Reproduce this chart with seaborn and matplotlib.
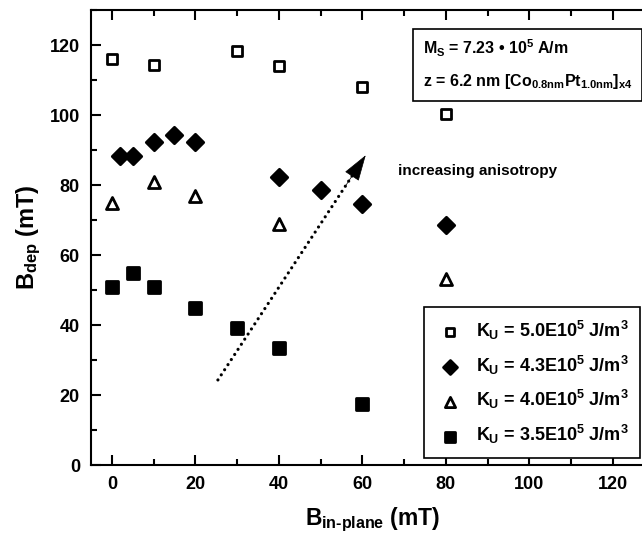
import numpy as np
import pandas as pd
import matplotlib
matplotlib.use('Agg')
import matplotlib.pyplot as plt
import seaborn as sns

# ==========================================
# Data
# ==========================================
x_50 = [0, 10, 30, 40, 60, 80]
y_50 = [116.0, 114.3, 118.2, 114.0, 108.0, 100.2]

x_43 = [2, 5, 10, 15, 20, 40, 50, 60, 80]
y_43 = [88.2, 88.2, 92.2, 94.2, 92.2, 82.4, 78.5, 74.5, 68.6]

x_40 = [0, 10, 20, 40, 80]
y_40 = [74.8, 80.8, 76.8, 69.0, 53.2]

x_35 = [0, 5, 10, 20, 30, 40, 60]
y_35 = [51.0, 55.0, 51.0, 45.0, 39.2, 33.4, 17.5]

labels = [r'$K_U$ = 5.0E10$^5$ J/m$^3$',
          r'$K_U$ = 4.3E10$^5$ J/m$^3$',
          r'$K_U$ = 4.0E10$^5$ J/m$^3$',
          r'$K_U$ = 3.5E10$^5$ J/m$^3$']

arrow_start = (25.4, 24.3)
arrow_end = (60.8, 88.5)

# ==========================================
# Style
# ==========================================
sns.set_style('ticks')
plt.rcParams['font.family'] = ['Liberation Sans', 'DejaVu Sans']
plt.rcParams['font.weight'] = 'bold'
plt.rcParams['mathtext.fontset'] = 'custom'
plt.rcParams['mathtext.rm'] = 'Liberation Sans:bold'
plt.rcParams['mathtext.it'] = 'Liberation Sans:bold'
plt.rcParams['mathtext.bf'] = 'Liberation Sans:bold'
plt.rcParams['mathtext.sf'] = 'Liberation Sans:bold'
for k in ['text.color', 'axes.labelcolor', 'xtick.color', 'ytick.color', 'axes.edgecolor']:
    plt.rcParams[k] = 'black'

fig = plt.figure(figsize=(6.42, 5.35), dpi=100)
ax = fig.add_axes([91 / 642, 70 / 535, 563.6 / 642, 455 / 535])

series = [(x_50, y_50, 's', 'white', 50),
          (x_43, y_43, 'D', 'black', 70),
          (x_40, y_40, '^', 'white', 75),
          (x_35, y_35, 's', 'black', 85)]

for (xs, ys, mk, fc, sz), lab in zip(series, labels):
    df = pd.DataFrame({'x': xs, 'y': ys})
    sns.scatterplot(data=df, x='x', y='y', marker=mk, s=sz, color=fc,
                    edgecolor='black', linewidth=2, label=lab, ax=ax, zorder=3)

# dotted arrow
dx = arrow_end[0] - arrow_start[0]
dy = arrow_end[1] - arrow_start[1]
ax.plot([arrow_start[0], arrow_start[0] + 0.92 * dx],
        [arrow_start[1], arrow_start[1] + 0.92 * dy],
        linestyle=(0, (0.01, 1.9)), dash_capstyle='round', color='black', lw=2.3)
ax.annotate('', xy=arrow_end, xytext=(arrow_start[0] + 0.86 * dx, arrow_start[1] + 0.86 * dy),
            arrowprops=dict(arrowstyle='-|>,head_length=1.0,head_width=0.32',
                            color='black', lw=0.5, mutation_scale=17, shrinkA=0, shrinkB=0))
ax.text(68.5, 84, 'increasing anisotropy', fontsize=11, fontweight='bold',
        va='center', ha='left')

ax.set_xlim(-5, 130)
ax.set_ylim(0, 130)
ax.set_xticks(np.arange(0, 121, 20))
ax.set_xticks(np.arange(0, 131, 10), minor=True)
ax.set_yticks(np.arange(0, 121, 20))
ax.set_yticks(np.arange(0, 131, 10), minor=True)
ax.tick_params(which='both', direction='in', top=True, right=True, width=1.5)
ax.tick_params(which='major', length=7, labelsize=13, pad=8)
ax.tick_params(which='minor', length=4)
for s in ax.spines.values():
    s.set_linewidth(1.5)

ax.set_xlabel(r'$B_{\text{in-plane}}$ (mT)', fontsize=16.5, fontweight='bold', labelpad=9)
ax.set_ylabel(r'$B_{dep}$ (mT)', fontsize=17, fontweight='bold', labelpad=5)

leg = ax.legend(loc='lower right', bbox_to_anchor=(640 / 642, 77 / 535),
                bbox_transform=fig.transFigure, fontsize=13, frameon=True,
                fancybox=False, edgecolor='black', framealpha=1, markerscale=0.85,
                handletextpad=0.6, borderpad=0.65, labelspacing=0.65, handlelength=1.6,
                borderaxespad=0)
leg.get_frame().set_linewidth(1.2)

fig.text(423 / 642, 1 - 38 / 535,
         r'$M_S$ = 7.23 • 10$^5$ A/m' + '\n' +
         r'z = 6.2 nm [Co$_{0.8nm}$Pt$_{1.0nm}$]$_{x4}$',
         fontsize=11.5, fontweight='bold', ha='left', va='top', linespacing=1.9,
         bbox=dict(boxstyle='square,pad=0.6', fc='white', ec='black', lw=1.2))

fig.savefig('out.png', dpi=100)
